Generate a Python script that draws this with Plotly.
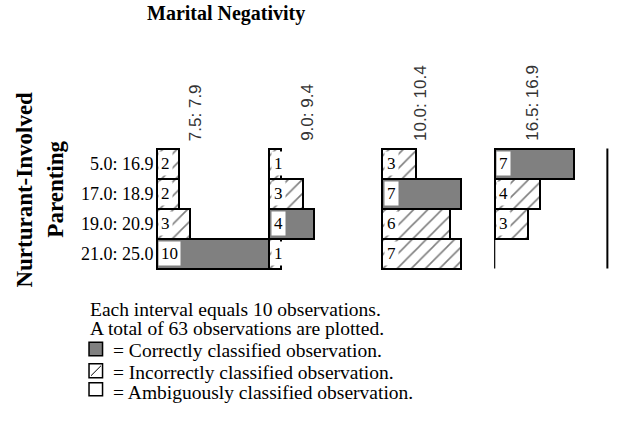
import plotly.graph_objects as go

# ---------------- data ----------------
title_text = "Marital Negativity"
y_title_lines = ["Nurturant-Involved", "Parenting"]
col_labels = ["7.5: 7.9", "9.0: 9.4", "10.0: 10.4", "16.5: 16.9"]
row_labels = ["5.0: 16.9", "17.0: 18.9", "19.0: 20.9", "21.0: 25.0"]
# counts[row][col]
counts = [
    [2, 1, 3, 7],
    [2, 3, 7, 4],
    [3, 4, 6, 3],
    [10, 1, 7, 0],
]
# classification of each cell: C = correct, I = incorrect, A = ambiguous
classes = [
    ["I", "I", "I", "C"],
    ["I", "I", "C", "I"],
    ["I", "C", "I", "I"],
    ["C", "I", "I", None],
]
interval = 10
legend_notes = [
    "Each interval equals 10 observations.",
    "A total of 63 observations are plotted.",
]
legend_items = [
    ("C", "= Correctly classified observation."),
    ("I", "= Incorrectly classified observation."),
    ("A", "= Ambiguously classified observation."),
]

# ---------------- geometry ----------------
W, H = 620, 424
n_cols = len(col_labels)
n_rows = len(row_labels)
x_range = [-0.5, n_cols * interval + 0.5]
y_range = [n_rows - 1 + 0.55, -0.55]
unit_px = 11.25
row_px = 30
plot_w = (x_range[1] - x_range[0]) * unit_px
plot_h = (y_range[0] - y_range[1]) * row_px
m_l = 157 - (0 - x_range[0]) * unit_px
m_t = 148.3 - (-0.5 - y_range[1]) * row_px
m_r = W - m_l - plot_w
m_b = H - m_t - plot_h


def px_x(px):
    return (px - m_l) / plot_w


def px_y(py):
    return (H - m_b - py) / plot_h


SERIF = "Liberation Serif, Times New Roman, serif"
SANS = "Liberation Sans, Arial, sans-serif"

styles = {
    "C": dict(color="#808080", pattern=None),
    "I": dict(color="white", pattern=dict(shape="/", size=10, solidity=0.16,
                                          fgcolor="black", bgcolor="white")),
    "A": dict(color="white", pattern=None),
}
names = {"C": "Correct", "I": "Incorrect", "A": "Ambiguous"}

fig = go.Figure()
annotations = []

for key in ["C", "I", "A"]:
    xs, ys, bases = [], [], []
    for r in range(n_rows):
        for c in range(n_cols):
            if classes[r][c] == key and counts[r][c] > 0:
                xs.append(counts[r][c])
                ys.append(r)
                bases.append(c * interval)
    if not xs:
        continue
    st = styles[key]
    marker = dict(color=st["color"], line=dict(color="black", width=2))
    if st["pattern"]:
        marker["pattern"] = st["pattern"]
    fig.add_trace(go.Bar(
        x=xs, y=ys, base=bases, orientation="h", width=1,
        marker=marker, name=names[key], showlegend=False,
        hoverinfo="skip", cliponaxis=False,
    ))

# count labels with white box
for r in range(n_rows):
    for c in range(n_cols):
        if counts[r][c] > 0:
            annotations.append(dict(
                x=c * interval, y=r, xref="x", yref="y",
                text=str(counts[r][c]), showarrow=False,
                xanchor="left", yanchor="middle", xshift=1.5,
                bgcolor="white", borderpad=2,
                font=dict(family=SERIF, size=17, color="black"),
            ))

# vertical interval lines
shapes = []
for c in range(n_cols + 1):
    shapes.append(dict(
        type="line", xref="x", yref="y",
        x0=c * interval, x1=c * interval, y0=-0.5, y1=n_rows - 0.5,
        line=dict(color="black", width=2 if c == n_cols else 1.2),
        layer="below" if c < n_cols else "above",
    ))

# row labels
for r, lab in enumerate(row_labels):
    annotations.append(dict(
        x=0, y=r, xref="x", yref="y", text=lab, showarrow=False,
        xanchor="right", yanchor="middle", xshift=-1,
        font=dict(family=SERIF, size=18, color="black"),
    ))

# column headers (rotated)
for c, lab in enumerate(col_labels):
    annotations.append(dict(
        x=c * interval + 3.4, y=px_y(142.5), xref="x", yref="paper",
        text=lab, showarrow=False, textangle=-90,
        xanchor="center", yanchor="bottom",
        font=dict(family=SANS, size=17, color="#333333"),
    ))

# title
annotations.append(dict(
    x=px_x(226), y=px_y(13), xref="paper", yref="paper",
    text="<b>%s</b>" % title_text, showarrow=False,
    xanchor="center", yanchor="middle",
    font=dict(family=SERIF, size=20, color="black"),
))

# y-axis title (two rotated lines)
for i, (line, cx) in enumerate(zip(y_title_lines, [25, 56])):
    annotations.append(dict(
        x=px_x(cx), y=px_y(189), xref="paper", yref="paper",
        text="<b>%s</b>" % line, showarrow=False, textangle=-90,
        xanchor="center", yanchor="middle",
        font=dict(family=SERIF, size=23, color="black"),
    ))

# legend notes
for line, cy in zip(legend_notes, [309.5, 328.5]):
    annotations.append(dict(
        x=px_x(88), y=px_y(cy), xref="paper", yref="paper",
        text=line, showarrow=False, xanchor="left", yanchor="middle",
        font=dict(family=SERIF, size=19.5, color="black"),
    ))

box_tops = [342, 363.5, 382.5]
box_size = [13.5, 14, 13]
for (key, line), cy, top, sz in zip(legend_items, [350, 372.5, 392], box_tops, box_size):
    annotations.append(dict(
        x=px_x(111), y=px_y(cy), xref="paper", yref="paper",
        text=line, showarrow=False, xanchor="left", yanchor="middle",
        font=dict(family=SERIF, size=19.5, color="black"),
    ))
    x0, x1 = px_x(89.5), px_x(89.5 + 13.5)
    y0, y1 = px_y(top + sz), px_y(top)
    shapes.append(dict(
        type="rect", xref="paper", yref="paper", x0=x0, x1=x1, y0=y0, y1=y1,
        fillcolor=styles[key]["color"], line=dict(color="black", width=1.5),
    ))
    if key == "I":
        shapes.append(dict(
            type="line", xref="paper", yref="paper",
            x0=px_x(91.5), x1=px_x(101.5), y0=px_y(top + sz - 2), y1=px_y(top + 2),
            line=dict(color="black", width=1),
        ))

fig.update_layout(
    width=W, height=H,
    margin=dict(l=m_l, r=m_r, t=m_t, b=m_b, pad=0),
    paper_bgcolor="white", plot_bgcolor="white",
    barmode="overlay", bargap=0,
    xaxis=dict(range=x_range, visible=False, fixedrange=True),
    yaxis=dict(range=y_range, visible=False, fixedrange=True),
    annotations=annotations, shapes=shapes,
    showlegend=False,
)

fig.write_html("out.html")
